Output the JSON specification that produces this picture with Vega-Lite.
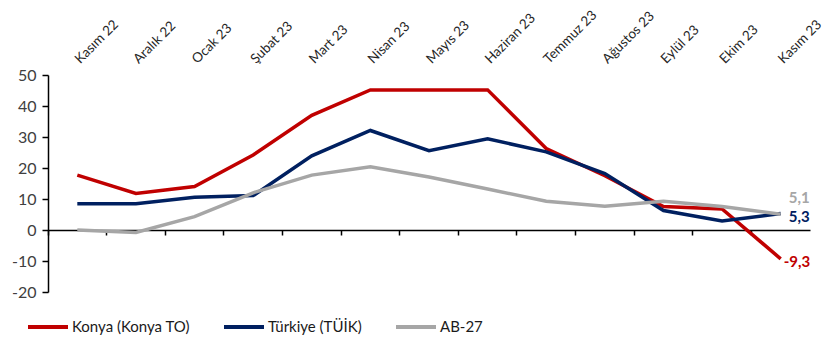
{
  "$schema": "https://vega.github.io/schema/vega-lite/v6.json",
  "width": 762,
  "height": 217,
  "autosize": {"type": "none"},
  "padding": {"left": 48, "top": 75, "right": 23, "bottom": 48},
  "background": "white",
  "config": {"font": "Lato", "view": {"stroke": null}},
  "data": {
    "values": [
      {"ay": "Kasım 22", "seri": "Konya (Konya TO)", "deger": 17.7},
      {"ay": "Aralık 22", "seri": "Konya (Konya TO)", "deger": 11.8},
      {"ay": "Ocak 23", "seri": "Konya (Konya TO)", "deger": 14.0},
      {"ay": "Şubat 23", "seri": "Konya (Konya TO)", "deger": 24.2},
      {"ay": "Mart 23", "seri": "Konya (Konya TO)", "deger": 37.0},
      {"ay": "Nisan 23", "seri": "Konya (Konya TO)", "deger": 45.2},
      {"ay": "Mayıs 23", "seri": "Konya (Konya TO)", "deger": 45.2},
      {"ay": "Haziran 23", "seri": "Konya (Konya TO)", "deger": 45.2},
      {"ay": "Temmuz 23", "seri": "Konya (Konya TO)", "deger": 26.3},
      {"ay": "Ağustos 23", "seri": "Konya (Konya TO)", "deger": 17.5},
      {"ay": "Eylül 23", "seri": "Konya (Konya TO)", "deger": 7.6},
      {"ay": "Ekim 23", "seri": "Konya (Konya TO)", "deger": 6.8},
      {"ay": "Kasım 23", "seri": "Konya (Konya TO)", "deger": -9.3},
      {"ay": "Kasım 22", "seri": "Türkiye (TÜİK)", "deger": 8.5},
      {"ay": "Aralık 22", "seri": "Türkiye (TÜİK)", "deger": 8.5},
      {"ay": "Ocak 23", "seri": "Türkiye (TÜİK)", "deger": 10.6},
      {"ay": "Şubat 23", "seri": "Türkiye (TÜİK)", "deger": 11.1},
      {"ay": "Mart 23", "seri": "Türkiye (TÜİK)", "deger": 23.9},
      {"ay": "Nisan 23", "seri": "Türkiye (TÜİK)", "deger": 32.1},
      {"ay": "Mayıs 23", "seri": "Türkiye (TÜİK)", "deger": 25.6},
      {"ay": "Haziran 23", "seri": "Türkiye (TÜİK)", "deger": 29.4},
      {"ay": "Temmuz 23", "seri": "Türkiye (TÜİK)", "deger": 25.2},
      {"ay": "Ağustos 23", "seri": "Türkiye (TÜİK)", "deger": 18.2},
      {"ay": "Eylül 23", "seri": "Türkiye (TÜİK)", "deger": 6.3},
      {"ay": "Ekim 23", "seri": "Türkiye (TÜİK)", "deger": 2.9},
      {"ay": "Kasım 23", "seri": "Türkiye (TÜİK)", "deger": 5.3},
      {"ay": "Kasım 22", "seri": "AB-27", "deger": 0.0},
      {"ay": "Aralık 22", "seri": "AB-27", "deger": -0.8},
      {"ay": "Ocak 23", "seri": "AB-27", "deger": 4.3},
      {"ay": "Şubat 23", "seri": "AB-27", "deger": 12.0},
      {"ay": "Mart 23", "seri": "AB-27", "deger": 17.7},
      {"ay": "Nisan 23", "seri": "AB-27", "deger": 20.4},
      {"ay": "Mayıs 23", "seri": "AB-27", "deger": 17.1},
      {"ay": "Haziran 23", "seri": "AB-27", "deger": 13.2},
      {"ay": "Temmuz 23", "seri": "AB-27", "deger": 9.3},
      {"ay": "Ağustos 23", "seri": "AB-27", "deger": 7.7},
      {"ay": "Eylül 23", "seri": "AB-27", "deger": 9.3},
      {"ay": "Ekim 23", "seri": "AB-27", "deger": 7.6},
      {"ay": "Kasım 23", "seri": "AB-27", "deger": 5.1}
    ]
  },
  "transform": [
    {"calculate": "replace(replace(format(datum.deger, '.1f'), '.', ','), '\u2212', '-')", "as": "etiket"}
  ],
  "encoding": {
    "y": {
      "field": "deger", "type": "quantitative",
      "scale": {"domain": [-20, 50], "nice": false},
      "axis": {
        "title": null, "grid": false, "values": [-20, -10, 0, 10, 20, 30, 40, 50],
        "labelExpr": "replace(datum.label, '\u2212', '-')",
        "domainColor": "#000000", "domainWidth": 1.5, "tickColor": "#000000", "tickWidth": 1.5,
        "tickSize": 6, "labelPadding": 6, "labelFontSize": 16, "labelColor": "#404040"
      }
    }
  },
  "resolve": {"axis": {"x": "independent"}},
  "layer": [
    {
      "mark": {"type": "line", "strokeWidth": 3.5},
      "encoding": {
        "x": {
          "field": "ay", "type": "ordinal", "sort": null, "bandPosition": 0.5,
          "scale": {"type": "band", "paddingInner": 0, "paddingOuter": 0},
          "axis": {
            "orient": "top", "title": null, "domain": false, "ticks": false, "tickSize": 0,
            "labelAngle": -45, "labelAlign": "left", "labelBaseline": "middle",
            "labelPadding": 14, "labelFontSize": 13.5, "labelColor": "#262626"
          }
        },
        "color": {
          "field": "seri", "type": "nominal",
          "scale": {
            "domain": ["Konya (Konya TO)", "Türkiye (TÜİK)", "AB-27"],
            "range": ["#C00000", "#002060", "#A6A6A6"]
          },
          "legend": {
            "title": null, "orient": "none", "direction": "horizontal",
            "legendX": -22, "legendY": 230,
            "symbolType": "stroke", "symbolSize": 1600, "symbolStrokeWidth": 4,
            "labelFontSize": 15, "labelColor": "#1a1a1a", "labelOffset": 2, "columnPadding": 26
          }
        }
      }
    },
    {
      "transform": [{"filter": "datum.ay == 'Kasım 23' && datum.seri == 'Konya (Konya TO)'"}],
      "mark": {"type": "text", "align": "left", "baseline": "middle", "dx": 3, "dy": 3, "fontSize": 15, "fontWeight": "bold"},
      "encoding": {
        "x": {
          "field": "ay", "type": "ordinal", "sort": null, "bandPosition": 0.5,
          "axis": {
            "orient": "bottom", "offset": -62, "title": null, "labels": false,
            "domain": true, "domainColor": "#000000", "domainWidth": 1.5,
            "ticks": true, "tickColor": "#000000", "tickWidth": 1.5, "tickSize": 5, "bandPosition": 0
          }
        },
        "text": {"field": "etiket"},
        "color": {"value": "#C00000"}
      }
    },
    {
      "transform": [{"filter": "datum.ay == 'Kasım 23' && datum.seri == 'Türkiye (TÜİK)'"}],
      "mark": {"type": "text", "align": "left", "baseline": "middle", "dx": 8, "dy": 3, "fontSize": 15, "fontWeight": "bold"},
      "encoding": {
        "x": {"field": "ay", "type": "ordinal", "sort": null, "bandPosition": 0.5, "axis": null},
        "text": {"field": "etiket"},
        "color": {"value": "#002060"}
      }
    },
    {
      "transform": [{"filter": "datum.ay == 'Kasım 23' && datum.seri == 'AB-27'"}],
      "mark": {"type": "text", "align": "left", "baseline": "middle", "dx": 8, "dy": -16, "fontSize": 15, "fontWeight": "bold"},
      "encoding": {
        "x": {"field": "ay", "type": "ordinal", "sort": null, "bandPosition": 0.5, "axis": null},
        "text": {"field": "etiket"},
        "color": {"value": "#A6A6A6"}
      }
    }
  ]
}
